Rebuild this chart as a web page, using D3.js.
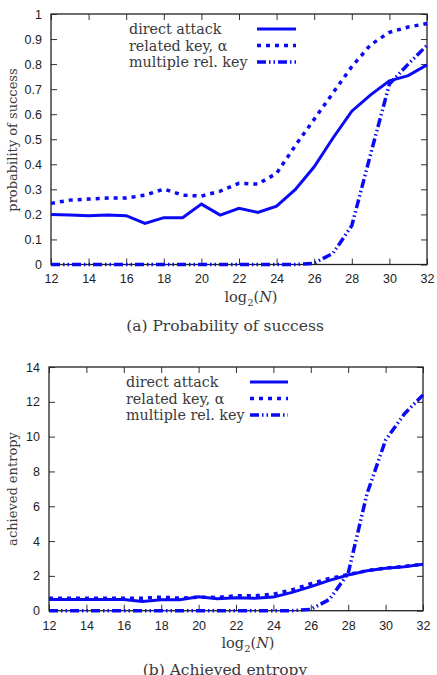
<!DOCTYPE html>
<html>
<head>
<meta charset="utf-8">
<script src="https://cdn.jsdelivr.net/npm/d3@7"></script>
<style>
  body { margin: 0; background: #fff; }
  svg { display: block; }
  .tick text { font-family: "Liberation Sans", Arial, sans-serif; font-size: 12.5px; fill: #222; }
  .serif { font-family: "DejaVu Serif", "Liberation Serif", serif; fill: #3a3a3a; }
</style>
</head>
<body>
<div id="chart"></div>
<script>
const logN = d3.range(12, 33); // 12..32

// (a) probability of success
const successDirect = [0.20, 0.198, 0.195, 0.198, 0.195, 0.164, 0.187, 0.187, 0.241, 0.197, 0.224,
  0.208, 0.233, 0.300, 0.39, 0.505, 0.612, 0.677, 0.733, 0.754, 0.797];
const successRelated = [0.244, 0.257, 0.261, 0.265, 0.265, 0.277, 0.301, 0.277, 0.273, 0.293, 0.324,
  0.321, 0.364, 0.475, 0.58, 0.685, 0.79, 0.877, 0.927, 0.948, 0.962];
const successMultiple = [0, 0, 0, 0, 0, 0, 0, 0, 0, 0, 0,
  0, 0, 0, 0.005, 0.045, 0.155, 0.44, 0.72, 0.80, 0.875];

// (b) achieved entropy
const entropyDirect = [0.65, 0.65, 0.65, 0.65, 0.65, 0.53, 0.63, 0.63, 0.80, 0.68, 0.74,
  0.72, 0.78, 1.05, 1.38, 1.74, 2.05, 2.3, 2.44, 2.53, 2.67];
const entropyRelated = [0.72, 0.72, 0.72, 0.72, 0.72, 0.72, 0.78, 0.72, 0.78, 0.76, 0.86,
  0.86, 0.95, 1.2, 1.55, 1.85, 2.08, 2.3, 2.45, 2.54, 2.67];
const entropyMultiple = [0, 0, 0, 0, 0, 0, 0, 0, 0, 0, 0,
  0, 0, 0, 0.08, 0.65, 2.15, 6.7, 9.8, 11.3, 12.4];

const seriesNames = ["direct attack", "related key, \u03b1", "multiple rel. key"];
const xTicks = d3.range(12, 33, 2);
const yTicksA = d3.range(0, 1.01, 0.1);
const yTicksB = d3.range(0, 15, 2);

const blue = "#0a0af5";
const styles = [
  { dash: null, width: 3 },
  { dash: "4,5", width: 3.5 },
  { dash: "9,3,1.5,3,1.5,3", width: 3.5 }
];

const svg = d3.select("#chart").append("svg")
  .attr("width", 437).attr("height", 675);

function panel(opts) {
  const { left, right, top, bottom, yDomain, yTicks, yFormat, series, yLabel, yLabelY,
    legendX, legendY, sampleX, xLabelY, caption, captionY } = opts;

  const x = d3.scaleLinear().domain([12, 32]).range([left, right]);
  const y = d3.scaleLinear().domain(yDomain).range([bottom, top]);
  const g = svg.append("g");

  // mirrored inner ticks (gnuplot style)
  g.append("g").attr("transform", `translate(0,${bottom})`)
    .call(d3.axisBottom(x).tickValues(xTicks).tickSizeInner(-6).tickSizeOuter(0).tickPadding(10));
  g.append("g").attr("transform", `translate(0,${top})`)
    .call(d3.axisTop(x).tickValues(xTicks).tickSizeInner(-6).tickSizeOuter(0).tickFormat(""));
  g.append("g").attr("transform", `translate(${left},0)`)
    .call(d3.axisLeft(y).tickValues(yTicks).tickFormat(yFormat).tickSizeInner(-6).tickSizeOuter(0).tickPadding(9));
  g.append("g").attr("transform", `translate(${right},0)`)
    .call(d3.axisRight(y).tickValues(yTicks).tickSizeInner(-6).tickSizeOuter(0).tickFormat(""));
  g.selectAll(".domain").remove();
  g.selectAll(".tick line").attr("stroke", "#333");

  g.append("rect")
    .attr("x", left).attr("y", top)
    .attr("width", right - left).attr("height", bottom - top)
    .attr("fill", "none").attr("stroke", "#222").attr("stroke-width", 1.3);

  const line = d3.line().x((d, i) => x(logN[i])).y(d => y(d));

  series.forEach((vals, k) => {
    g.append("path")
      .datum(vals)
      .attr("d", line)
      .attr("fill", "none")
      .attr("stroke", blue)
      .attr("stroke-width", styles[k].width)
      .attr("stroke-dasharray", styles[k].dash);
  });

  // legend
  seriesNames.forEach((name, k) => {
    const ly = legendY + k * 16.5;
    g.append("text").attr("class", "serif")
      .attr("x", legendX).attr("y", ly + 5)
      .attr("font-size", 14.3)
      .text(name);
    g.append("line")
      .attr("x1", sampleX[0]).attr("x2", sampleX[1])
      .attr("y1", ly).attr("y2", ly)
      .attr("stroke", blue)
      .attr("stroke-width", styles[k].width)
      .attr("stroke-dasharray", styles[k].dash);
  });

  // y label
  g.append("text").attr("class", "serif")
    .attr("transform", `translate(17,${yLabelY}) rotate(-90)`)
    .attr("text-anchor", "middle")
    .attr("font-size", 13)
    .text(yLabel);

  // x label log2(N)
  const xl = g.append("text").attr("class", "serif")
    .attr("x", (left + right) / 2 + 12).attr("y", xLabelY)
    .attr("text-anchor", "middle")
    .attr("font-size", 14.5);
  xl.append("tspan").text("log");
  xl.append("tspan").attr("font-size", 10).attr("dy", 4).text("2");
  xl.append("tspan").attr("dy", -4).text("(");
  xl.append("tspan").attr("font-style", "italic").text("N");
  xl.append("tspan").text(")");

  g.append("text").attr("class", "serif")
    .attr("x", 225).attr("y", captionY)
    .attr("text-anchor", "middle")
    .attr("font-size", 15.5)
    .text(caption);
}

panel({
  left: 51, right: 427, top: 14, bottom: 264.5,
  yDomain: [0, 1], yTicks: yTicksA,
  yFormat: d => d === 0 ? "0" : d === 1 ? "1" : d3.format(".1f")(d),
  series: [successDirect, successRelated, successMultiple],
  yLabel: "probability of success", yLabelY: 140,
  legendX: 129, legendY: 29, sampleX: [257, 296],
  xLabelY: 302, caption: "(a) Probability of success", captionY: 331
});

panel({
  left: 49, right: 423, top: 367, bottom: 610.7,
  yDomain: [0, 14], yTicks: yTicksB,
  yFormat: d3.format("d"),
  series: [entropyDirect, entropyRelated, entropyMultiple],
  yLabel: "achieved entropy", yLabelY: 489,
  legendX: 126, legendY: 382, sampleX: [250, 288],
  xLabelY: 648, caption: "(b) Achieved entropy", captionY: 675
});
</script>
</body>
</html>
